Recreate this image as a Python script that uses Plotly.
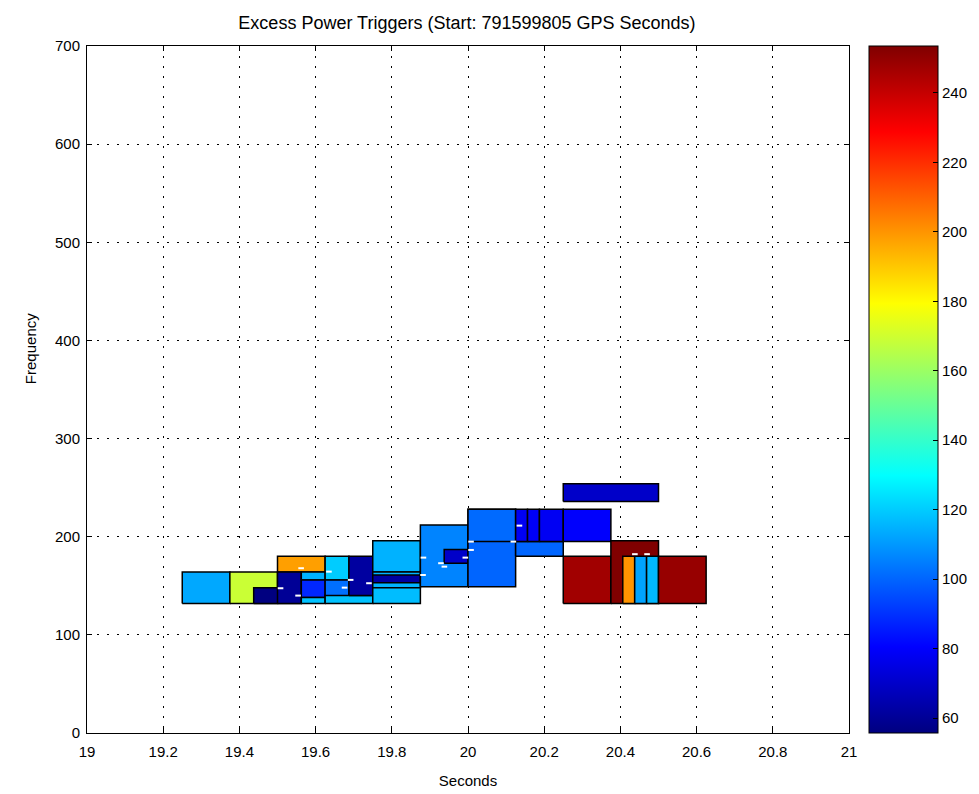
import plotly.graph_objects as go
from plotly.colors import sample_colorscale

# ---- data: trigger tiles (start time, end time, low freq, high freq, power) ----
t_start = [19.25, 19.375, 19.4375, 19.5, 19.5, 19.5625, 19.5625, 19.5625,
           19.625, 19.625, 19.625, 19.6875, 19.75, 19.75, 19.75, 19.75,
           19.875, 19.9375, 20.0, 20.0, 20.125, 20.125, 20.15625, 20.1875,
           20.25, 20.25, 20.25, 20.375, 20.40625, 20.4375, 20.46875, 20.5]
t_end = [19.375, 19.5, 19.5625, 19.625, 19.5625, 19.625, 19.625, 19.625,
         19.6875, 19.6875, 19.75, 19.75, 19.875, 19.875, 19.875, 19.875,
         20.0, 20.0, 20.125, 20.125, 20.25, 20.15625, 20.1875, 20.25,
         20.375, 20.5, 20.375, 20.5, 20.4375, 20.46875, 20.5, 20.625]
f_low = [132, 132, 132, 164, 132, 156, 138, 132,
         156, 139, 132, 140, 164, 148, 132, 153,
         149, 173, 149, 195, 180, 195, 195, 195,
         195, 236, 132, 132, 132, 132, 132, 132]
f_high = [164, 164, 148, 180, 164, 164, 156, 138,
          180, 156, 140, 180, 196, 164, 148, 161,
          212, 187, 228, 228, 195, 228, 228, 228,
          228, 254, 180, 196, 180, 180, 180, 180]
power = [113, 169, 55.7, 198, 60, 115, 88, 118,
         120, 102, 118, 62, 115, 115, 117, 62,
         106, 70, 100, 101, 100, 78, 79, 78,
         80, 70, 247, 253.5, 200, 112, 116, 249]

# peak markers (time, frequency)
peak_t = [19.562, 19.635, 19.692, 19.508, 19.554, 19.676, 20.135, 20.008,
          20.119, 20.008, 19.883, 19.929, 19.938, 19.993, 19.882, 19.740,
          20.438, 20.470]
peak_f = [167.9, 164.4, 156.0, 147.5, 140.0, 148.1, 211.3, 195.0,
          195.0, 186.5, 178.7, 173.0, 169.5, 178.7, 161.0, 152.6,
          182.2, 182.2]

x_ticks = [19, 19.2, 19.4, 19.6, 19.8, 20, 20.2, 20.4, 20.6, 20.8, 21]
y_ticks = [0, 100, 200, 300, 400, 500, 600, 700]
cbar_ticks = [60, 80, 100, 120, 140, 160, 180, 200, 220, 240]

title_text = "Excess Power Triggers (Start: 791599805 GPS Seconds)"
x_label = "Seconds"
y_label = "Frequency"

# MATLAB-style jet colour scale
jet = [[0.0, "rgb(0,0,128)"], [0.125, "rgb(0,0,255)"], [0.375, "rgb(0,255,255)"],
       [0.625, "rgb(255,255,0)"], [0.875, "rgb(255,0,0)"], [1.0, "rgb(128,0,0)"]]

cmin, cmax = min(power), max(power)
FONT = "Liberation Sans"

fig = go.Figure()
for a, b, lo, hi, p in zip(t_start, t_end, f_low, f_high, power):
    col = sample_colorscale(jet, [(p - cmin) / (cmax - cmin)])[0]
    fig.add_trace(go.Scatter(
        x=[a, b, b, a, a], y=[lo, lo, hi, hi, lo],
        mode="lines", fill="toself", fillcolor=col,
        line=dict(color="black", width=1.5),
        hoverinfo="skip", showlegend=False))

fig.add_trace(go.Scatter(
    x=peak_t, y=peak_f, mode="markers",
    marker=dict(symbol="line-ew", size=4, line=dict(color="white", width=2)),
    hoverinfo="skip", showlegend=False))

# colour bar
fig.add_trace(go.Scatter(
    x=[(a + b) / 2 for a, b in zip(t_start, t_end)],
    y=[(lo + hi) / 2 for lo, hi in zip(f_low, f_high)],
    mode="markers",
    marker=dict(size=1, opacity=0, color=power, colorscale=jet, cmin=cmin, cmax=cmax,
                showscale=True,
                colorbar=dict(thickness=69, x=1.026, xanchor="left", xpad=0, ypad=0,
                              y=0.5, yanchor="middle", len=1, lenmode="fraction",
                              outlinecolor="black", outlinewidth=1,
                              tickvals=cbar_ticks, ticks="inside", ticklen=5,
                              tickcolor="black",
                              tickfont=dict(family=FONT, size=15, color="black"))),
    hoverinfo="skip", showlegend=False))

axis_common = dict(showline=True, linecolor="black", linewidth=1, mirror="ticks",
                   ticks="inside", ticklen=5, tickcolor="black",
                   showgrid=True, gridcolor="black", gridwidth=1, griddash="2px,8px",
                   zeroline=False, automargin=False,
                   tickfont=dict(family=FONT, size=15, color="black"))

fig.update_layout(
    width=979, height=794,
    margin=dict(l=87, r=130, t=46, b=61, autoexpand=False),
    paper_bgcolor="white", plot_bgcolor="white",
    title=dict(text=title_text, x=0.477, xanchor="center", y=0.972, yanchor="middle",
               font=dict(family=FONT, size=18, color="black")),
    xaxis=dict(range=[19, 21], tickvals=x_ticks, ticktext=[str(v) for v in x_ticks],
               ticklabelstandoff=5,
               title=dict(text=x_label, standoff=16,
                          font=dict(family=FONT, size=15, color="black")),
               **axis_common),
    yaxis=dict(range=[0, 700], tickvals=y_ticks, ticklabelstandoff=3,
               **axis_common),
    annotations=[dict(text=y_label, textangle=-90, xref="paper", yref="paper",
                      x=-0.075, y=0.56, xanchor="center", yanchor="middle",
                      showarrow=False,
                      font=dict(family=FONT, size=15, color="black"))],
)

fig.write_html("out.html")
